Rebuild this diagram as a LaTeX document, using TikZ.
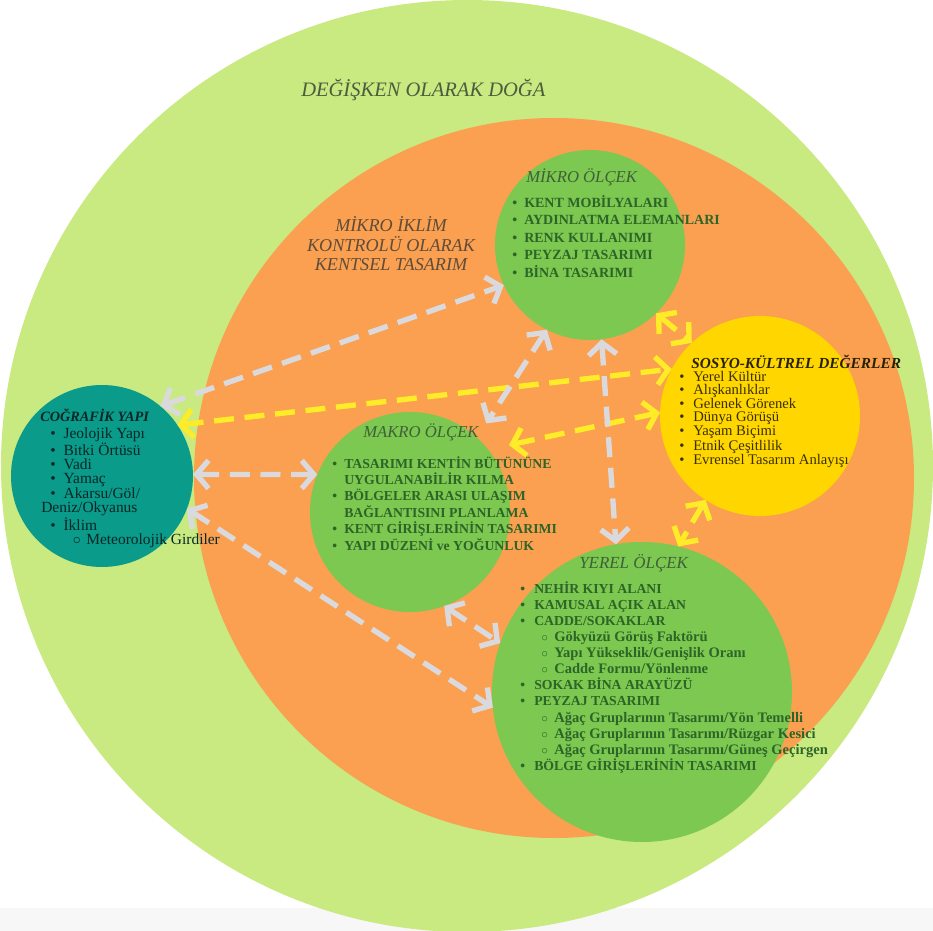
\documentclass[tikz,border=0pt]{standalone}
\usepackage{fontspec}
\setmainfont{Liberation Serif}
\usetikzlibrary{arrows.meta}

\definecolor{dogagreen}{RGB}{200,234,128}
\definecolor{iklimorange}{RGB}{250,160,80}
\definecolor{olcekgreen}{RGB}{124,200,80}
\definecolor{sosyoyellow}{RGB}{255,214,0}
\definecolor{cografteal}{RGB}{10,155,138}
\definecolor{linkgray}{RGB}{218,218,222}
\definecolor{linkyellow}{RGB}{255,236,40}
\definecolor{dogatext}{RGB}{78,92,62}
\definecolor{iklimtext}{RGB}{95,76,58}
\definecolor{olcektext}{RGB}{45,100,40}
\definecolor{olcektitle}{RGB}{62,96,56}
\definecolor{sosyotext}{RGB}{58,48,0}
\definecolor{cograftext}{RGB}{8,38,38}

% list helpers
\newcommand{\itm}[1][9pt]{\makebox[#1][l]{\textbullet}}
\newcommand{\subitm}[1]{\hspace*{15.75pt}\makebox[9.75pt][l]{$\circ$}{\fontsize{10.9}{12.1}\selectfont #1}}
\newcommand{\cont}{\hspace*{9pt}}

\tikzset{
  halka/.style={circle, draw=none, inner sep=0pt, outer sep=0pt},
  liste/.style={anchor=north west, inner sep=0.75pt, align=left},
  baslik/.style={anchor=west, inner sep=0.75pt},
  link/.style={draw=linkgray, line width=4pt, dash pattern=on 15pt off 8pt,
    {Straight Barb[length=9pt,width=21pt]}-{Straight Barb[length=9pt,width=21pt]}},
  sarilink/.style={link, draw=linkyellow}
}

\begin{document}
\begin{tikzpicture}[x=0.75pt,y=0.75pt,yscale=-1,xscale=1]
\useasboundingbox (0,0) rectangle (933,931);
\fill [black!3] (0,908) rectangle (933,931);

%Shape: Circle
\node (doga) [halka, fill=dogagreen, minimum size=699pt] at (467,466) {};
%Shape: Circle
\node (iklim) [halka, fill=iklimorange, minimum size=540pt] at (554,478) {};
%Shape: Circle
\node (mikro) [halka, fill=olcekgreen, minimum size=142.5pt] at (590,245) {};
%Shape: Circle
\node (makro) [halka, fill=olcekgreen, minimum size=150pt] at (410,512) {};
%Shape: Circle
\node (yerel) [halka, fill=olcekgreen, minimum size=225pt] at (642,692) {};
%Shape: Circle
\node (sosyo) [halka, fill=sosyoyellow, minimum size=150pt] at (760,416) {};
%Shape: Circle
\node (cograf) [halka, fill=cografteal, minimum size=136.5pt] at (102,476) {};

% Text Node
\node (dogaBaslik) [baslik, text=dogatext, font=\fontsize{15.4}{18}\itshape] at (300,90) {DEĞİŞKEN OLARAK DOĞA};
% Text Node
\node (iklimBaslik) [inner sep=0.75pt, align=center, text=iklimtext, font=\fontsize{13.6}{14.6}\itshape] at (391,244) {MİKRO İKLİM\\KONTROLÜ OLARAK\\KENTSEL TASARIM};

% Text Node
\node (mikroBaslik) [baslik, text=olcektitle, font=\fontsize{12.5}{14}\itshape] at (525,177) {MİKRO ÖLÇEK};
% Text Node
\node (mikroListe) [liste, text=olcektext, font=\fontsize{10.5}{13.1}\bfseries] at (511,194) {\itm KENT MOBİLYALARI\\
\itm AYDINLATMA ELEMANLARI\\
\itm RENK KULLANIMI\\
\itm PEYZAJ TASARIMI\\
\itm BİNA TASARIMI};

% Text Node
\node (makroBaslik) [baslik, text=olcektitle, font=\fontsize{12.5}{14}\itshape] at (362,432) {MAKRO ÖLÇEK};
% Text Node
\node (makroListe) [liste, text=olcektext, font=\fontsize{10.3}{12.3}\bfseries] at (331,455) {\itm TASARIMI KENTİN BÜTÜNÜNE\\
\cont UYGULANABİLİR KILMA\\
\itm BÖLGELER ARASI ULAŞIM\\
\cont BAĞLANTISINI PLANLAMA\\
\itm KENT GİRİŞLERİNİN TASARIMI\\
\itm YAPI DÜZENİ ve YOĞUNLUK};

% Text Node
\node (yerelBaslik) [baslik, text=olcektitle, font=\fontsize{12.7}{14}\itshape] at (578,563) {YEREL ÖLÇEK};
% Text Node
\node (yerelListe) [liste, text=olcektext, font=\fontsize{10.3}{12.1}\bfseries] at (519,580) {\itm[10.5pt]NEHİR KIYI ALANI\\
\itm[10.5pt]KAMUSAL AÇIK ALAN\\
\itm[10.5pt]CADDE/SOKAKLAR\\
\subitm{Gökyüzü Görüş Faktörü}\\
\subitm{Yapı Yükseklik/Genişlik Oranı}\\
\subitm{Cadde Formu/Yönlenme}\\
\itm[10.5pt]SOKAK BİNA ARAYÜZÜ\\
\itm[10.5pt]PEYZAJ TASARIMI\\
\subitm{Ağaç Gruplarının Tasarımı/Yön Temelli}\\
\subitm{Ağaç Gruplarının Tasarımı/Rüzgar Kesici}\\
\subitm{Ağaç Gruplarının Tasarımı/Güneş Geçirgen}\\
\itm[10.5pt]BÖLGE GİRİŞLERİNİN TASARIMI};

% Text Node
\node (sosyoBaslik) [baslik, text=sosyotext!70!black, font=\fontsize{11.5}{13}\bfseries\itshape] at (690,362) {SOSYO-KÜLTREL DEĞERLER};
% Text Node
\node (sosyoListe) [liste, text=sosyotext, font=\fontsize{11}{9.45}\selectfont] at (678,370) {\itm[10.5pt]Yerel Kültür\\
\itm[10.5pt]Alışkanlıklar\\
\itm[10.5pt]Gelenek Görenek\\
\itm[10.5pt]Dünya Görüşü\\
\itm[10.5pt]Yaşam Biçimi\\
\itm[10.5pt]Etnik Çeşitlilik\\
\itm[10.5pt]Evrensel Tasarım Anlayışı};

% Text Node
\node (cografBaslik) [baslik, text=cograftext, font=\fontsize{10.7}{12}\bfseries\itshape] at (39,415) {COĞRAFİK YAPI};
% Text Node
\node (cografListe) [liste, text=cograftext, font=\fontsize{11.6}{10.8}\selectfont] at (49,426) {\itm[10pt]Jeolojik Yapı\\
\itm[10pt]Bitki Örtüsü\\
\itm[10pt]Vadi\\
\itm[10pt]Yamaç\\
\itm[10pt]Akarsu/Göl/\\
\hspace*{-6.75pt}Deniz/Okyanus\\
\itm[10pt]İklim\\
\hspace*{17pt}\makebox[10pt][l]{$\circ$}Meteorolojik Girdiler};

% free arrow ends off the Makro circle
\coordinate (makroKuzey) at ([shift={(12,-12)}]makro.50);
\coordinate (makroDogu) at ([shift={(16,-11)}]makro.34);

% Yellow links
\draw [sarilink] (cograf.34) -- (sosyo.152);
\draw [sarilink] (mikro.314) -- (sosyo.133);
\draw [sarilink] (makroDogu) -- (sosyo.178);
\draw [sarilink] (sosyo.237) -- (yerel.76);

% Gray links
\draw [link] (cograf.50) -- (mikro.205);
\draw [link] (cograf.1) -- (makro.158);
\draw [link] (cograf.-21) -- (yerel.186);
\draw [link] (mikro.243) -- (makroKuzey);
\draw [link] (mikro.277) -- (yerel.100);
\draw [link] (makro.290) -- (yerel.161);

\end{tikzpicture}
\end{document}
